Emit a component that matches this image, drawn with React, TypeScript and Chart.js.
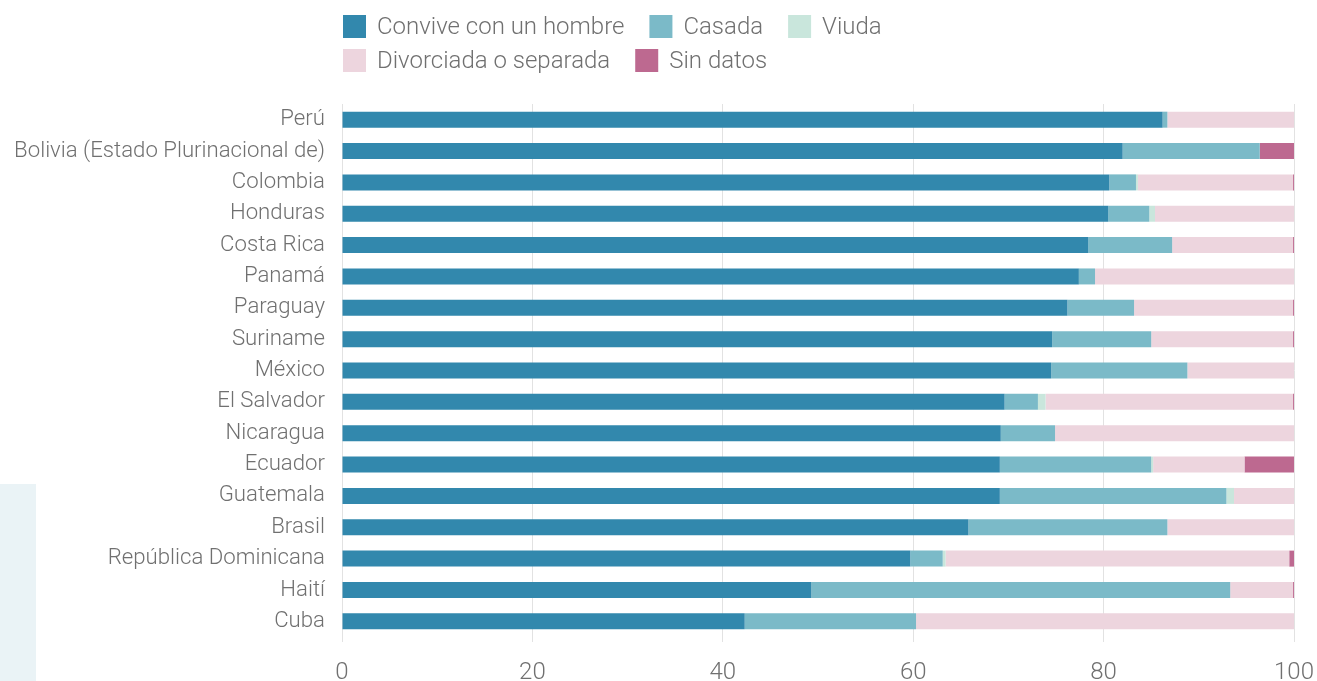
import React, { useEffect, useRef } from "react";
import { Chart, registerables } from "chart.js";

Chart.register(...registerables);

const categories = [
  "Perú",
  "Bolivia (Estado Plurinacional de)",
  "Colombia",
  "Honduras",
  "Costa Rica",
  "Panamá",
  "Paraguay",
  "Suriname",
  "México",
  "El Salvador",
  "Nicaragua",
  "Ecuador",
  "Guatemala",
  "Brasil",
  "República Dominicana",
  "Haití",
  "Cuba",
];

const convive = [86.2, 82.0, 80.6, 80.5, 78.4, 77.4, 76.2, 74.6, 74.5, 69.6, 69.2, 69.1, 69.1, 65.8, 59.7, 49.3, 42.3];
const casada = [0.5, 14.4, 2.8, 4.3, 8.8, 1.7, 7.0, 10.4, 14.3, 3.5, 5.7, 15.9, 23.8, 20.9, 3.4, 44.0, 18.0];
const viuda = [0, 0, 0.2, 0.6, 0, 0, 0, 0, 0, 0.8, 0, 0.2, 0.8, 0, 0.3, 0, 0];
const divorciada = [13.3, 0, 16.3, 14.6, 12.7, 20.9, 16.7, 14.9, 11.2, 26.0, 25.1, 9.6, 6.3, 13.3, 36.1, 6.6, 39.7];
const sinDatos = [0, 3.6, 0.1, 0, 0.1, 0, 0.1, 0.1, 0, 0.1, 0, 5.2, 0, 0, 0.5, 0.1, 0];

const xTicks = [0, 20, 40, 60, 80, 100];

const seriesNames = ["Convive con un hombre", "Casada", "Viuda", "Divorciada o separada", "Sin datos"];
const seriesColors = ["#3288ad", "#7bbac8", "#c9e6dc", "#edd5de", "#bd6990"];

const FONT = "Roboto, 'Noto Sans', sans-serif";
const TEXT_COLOR = "#707070";

const legendPlugin = {
  id: "customLegend",
  afterDraw(chart: any) {
    const ctx = chart.ctx;
    const left = chart.chartArea.left + 1;
    const box = 23;
    const textOffset = 34;
    const gap = 25;
    const maxRow = 580;
    const rowTops = [15, 49];
    ctx.save();
    ctx.font = `300 24px ${FONT}`;
    ctx.textBaseline = "middle";
    ctx.textAlign = "left";
    let x = left;
    let row = 0;
    chart.data.datasets.forEach((ds: any) => {
      const w = textOffset + ctx.measureText(ds.label).width;
      if (x !== left && x + w - left > maxRow) {
        row += 1;
        x = left;
      }
      const top = rowTops[row] ?? rowTops[0] + row * 34;
      ctx.fillStyle = ds.backgroundColor;
      ctx.fillRect(x, top, box, box);
      ctx.fillStyle = TEXT_COLOR;
      ctx.fillText(ds.label, x + textOffset, top + box / 2 + 1);
      x += w + gap;
    });
    ctx.restore();
  },
};

export default function App() {
  const canvasRef = useRef<HTMLCanvasElement | null>(null);

  useEffect(() => {
    const values = [convive, casada, viuda, divorciada, sinDatos];
    const chart = new Chart(canvasRef.current as HTMLCanvasElement, {
      type: "bar",
      data: {
        labels: categories,
        datasets: seriesNames.map((name, i) => ({
          label: name,
          data: values[i],
          backgroundColor: seriesColors[i],
          borderWidth: 0,
          barPercentage: 1,
          categoryPercentage: 0.51,
        })),
      },
      options: {
        indexAxis: "y",
        responsive: true,
        maintainAspectRatio: false,
        animation: false,
        layout: { padding: { top: 104, right: 23, left: 0, bottom: 0 } },
        plugins: {
          legend: { display: false },
          tooltip: { enabled: false },
        },
        scales: {
          x: {
            stacked: true,
            min: 0,
            max: 100,
            afterBuildTicks(scale: any) {
              scale.ticks = xTicks.map((v) => ({ value: v }));
            },
            afterFit(scale: any) {
              scale.height = 44;
              scale.paddingLeft = 0;
              scale.paddingRight = 0;
            },
            grid: {
              color: "#e2e2e2",
              lineWidth: 1,
              drawTicks: true,
              tickLength: 5,
            },
            border: { display: false },
            ticks: {
              color: TEXT_COLOR,
              font: { family: FONT, size: 24, weight: "300" },
              padding: 17,
            },
          },
          y: {
            stacked: true,
            afterFit(scale: any) {
              scale.width = 342;
              scale.paddingTop = 0;
              scale.paddingBottom = 0;
            },
            grid: { display: false, drawTicks: false },
            border: { display: false },
            ticks: {
              color: TEXT_COLOR,
              font: { family: FONT, size: 22.2, weight: "300" },
              padding: 17,
              autoSkip: false,
            },
          },
        },
      },
      plugins: [legendPlugin],
    } as any);
    return () => chart.destroy();
  }, []);

  return (
    <div style={{ position: "fixed", left: 0, top: 0, width: 1317, height: 681, background: "#ffffff" }}>
      <div style={{ position: "absolute", left: 0, top: 484, width: 36, height: 197, background: "#eaf3f6" }} />
      <div style={{ position: "absolute", left: 0, top: 0, width: 1317, height: 681 }}>
        <canvas ref={canvasRef} />
      </div>
    </div>
  );
}
